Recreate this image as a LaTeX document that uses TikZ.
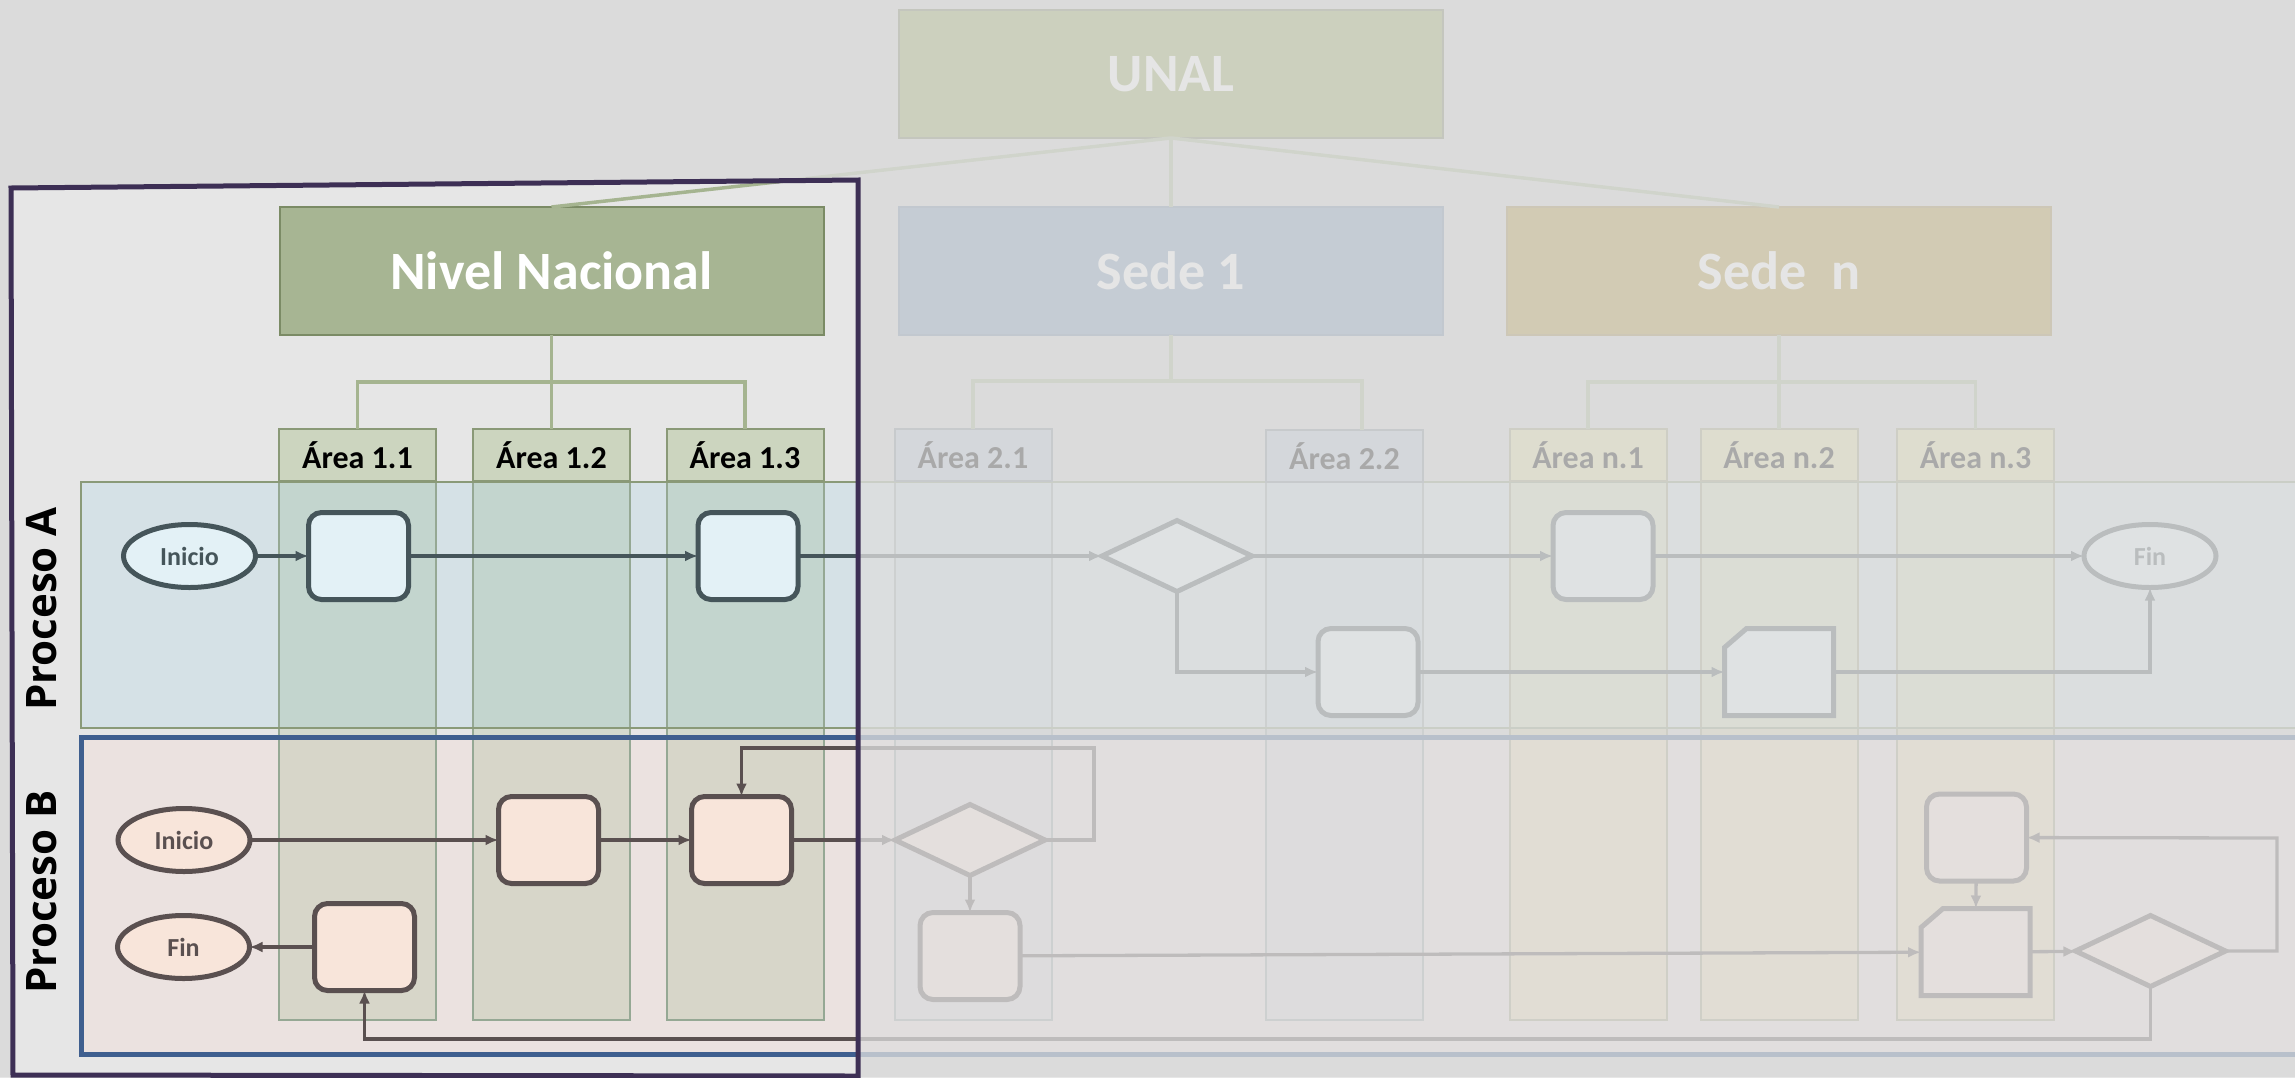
\documentclass[tikz,border=0pt]{standalone}
\usepackage{fontspec}
\setmainfont{Carlito}
\newfontfamily\lanefont{Open Sans}
\usetikzlibrary{positioning, shapes.geometric, arrows.meta}

\definecolor{bgbase}{HTML}{D5D5D5}
\definecolor{framefill}{HTML}{E6E6E6}
\definecolor{framedraw}{HTML}{3D2F55}
\definecolor{washgray}{HTML}{DEDEDE}
\definecolor{unalfill}{HTML}{95A659}
\definecolor{unalline}{HTML}{737B59}
\definecolor{nivfill}{HTML}{A7B593}
\definecolor{nivline}{HTML}{7B8B65}
\definecolor{sedeAfill}{HTML}{7795B7}
\definecolor{sedeAline}{HTML}{6A84A0}
\definecolor{sedeNfill}{HTML}{AE912F}
\definecolor{sedeNline}{HTML}{98803A}
\definecolor{linkcol}{HTML}{A5B490}
\definecolor{nivareafill}{HTML}{CCD5BF}
\definecolor{nivarealine}{HTML}{8A9977}
\definecolor{sAareafill}{HTML}{B7C4D5}
\definecolor{sAarealine}{HTML}{808C95}
\definecolor{sNareafill}{HTML}{E2DDA2}
\definecolor{sNarealine}{HTML}{9D9D77}
\definecolor{nivcol}{HTML}{EAF2E5}
\definecolor{nivcolline}{HTML}{95A894}
\definecolor{sAcol}{HTML}{F0F3FA}
\definecolor{sAcolline}{HTML}{99A6A6}
\definecolor{sNcol}{HTML}{FFF8D0}
\definecolor{sNcolline}{HTML}{A2A280}
\definecolor{laneAfill}{HTML}{D5E1E6}
\definecolor{laneAline}{HTML}{8A9A78}
\definecolor{laneBfill}{HTML}{EBE2E0}
\definecolor{laneBline}{HTML}{3F5F8F}
\definecolor{fillA}{HTML}{E3F1F6}
\definecolor{lineA}{HTML}{45555A}
\definecolor{fillB}{HTML}{F8E5DA}
\definecolor{lineB}{HTML}{5A5050}

\begin{document}
\begin{tikzpicture}[
    x=1pt, y=-1pt,
    >={Latex[length=13pt, width=11pt]},
    orgbox/.style={draw, line width=2pt, minimum width=544pt, minimum height=128pt, inner sep=0pt, outer sep=0pt, text=white, font=\fontsize{54}{60}\selectfont\bfseries},
    unalbox/.style={orgbox, fill=unalfill, draw=unalline},
    nivbox/.style={orgbox, fill=nivfill, draw=nivline},
    sedeAbox/.style={orgbox, fill=sedeAfill, draw=sedeAline},
    sedeNbox/.style={orgbox, fill=sedeNfill, draw=sedeNline},
    orglink/.style={line width=3.5pt, draw=linkcol},
    areahd/.style={draw, line width=2pt, minimum width=157pt, minimum height=52pt, inner sep=0pt, outer sep=0pt, font=\fontsize{32}{36}\selectfont\bfseries},
    nivarea/.style={areahd, fill=nivareafill, draw=nivarealine},
    sAarea/.style={areahd, fill=sAareafill, draw=sAarealine},
    sNarea/.style={areahd, fill=sNareafill, draw=sNarealine},
    colline/.style={line width=2pt},
    lanelbl/.style={rotate=90, font=\lanefont\fontsize{42}{48}\selectfont\bfseries},
    shp/.style={line width=5pt, inner sep=0pt, outer sep=0pt},
    procbox/.style={shp, rounded corners=13pt, minimum width=100pt, minimum height=87pt},
    termbox/.style={shp, ellipse, minimum width=132pt, minimum height=63pt, font=\fontsize{26}{30}\selectfont\bfseries},
    decbox/.style={shp, diamond, minimum width=150pt, minimum height=71pt},
    docbox/.style={shp, minimum width=109pt, minimum height=87pt},
    inA/.style={draw=lineA, fill=fillA, text=lineA},
    inB/.style={draw=lineB, fill=fillB, text=lineB},
    flowA/.style={->, line width=3.3pt, draw=lineA},
    flowB/.style={->, line width=3.3pt, draw=lineB},
    wash/.style={fill=washgray, fill opacity=0.765},
]
\useasboundingbox (0,0) rectangle (2295,1077);
\fill[bgbase] (0,0) rectangle (2295,1077);

% ─── Highlight frame ───
\coordinate (fNW) at (11,188);
\coordinate (fNE) at (858,180);
\coordinate (fSE) at (858,1076);
\coordinate (fSW) at (13,1075);
\fill[framefill] (fNW) -- (fNE) -- (fSE) -- (fSW) -- cycle;

% ─── Lanes ───
\fill[laneAfill] (81,482) rectangle (2320,728);
\fill[laneBfill] (81,737) rectangle (2320,1054);

% ─── Area columns ───
\begin{scope}[blend mode=multiply]
    \foreach \cx in {357.5, 551.5, 745} \fill[nivcol] ({\cx-78.5},482) rectangle ({\cx+78.5},1020);
    \foreach \cx in {973, 1344.5} \fill[sAcol] ({\cx-78.5},482) rectangle ({\cx+78.5},1020);
    \foreach \cx in {1588, 1779, 1975.5} \fill[sNcol] ({\cx-78.5},482) rectangle ({\cx+78.5},1020);
\end{scope}
\foreach \cx in {357.5, 551.5, 745} \draw[colline, nivcolline] ({\cx-78.5},482) rectangle ({\cx+78.5},1020);
\foreach \cx in {973, 1344.5} \draw[colline, sAcolline] ({\cx-78.5},482) rectangle ({\cx+78.5},1020);
\foreach \cx in {1588, 1779, 1975.5} \draw[colline, sNcolline] ({\cx-78.5},482) rectangle ({\cx+78.5},1020);

\draw[laneAline, line width=2.5pt] (81,482) rectangle (2320,728);
\draw[laneBline, line width=5pt] (81,737) rectangle (2320,1054);

\node[lanelbl] at (42,609) (lblA) {Proceso A};
\node[lanelbl] at (42,892) (lblB) {Proceso B};

% ─── Area headers ───
\node[nivarea] at (357.5,455) (ar11) {Área 1.1};
\node[nivarea] at (551.5,455) (ar12) {Área 1.2};
\node[nivarea] at (745,455)   (ar13) {Área 1.3};
\node[sAarea]  at (973,455)   (ar21) {Área 2.1};
\node[sAarea]  at (1344.5,456) (ar22) {Área 2.2};
\node[sNarea]  at (1588,455)  (arn1) {Área n.1};
\node[sNarea]  at (1779,455)  (arn2) {Área n.2};
\node[sNarea]  at (1975.5,455) (arn3) {Área n.3};

% ─── Org chart ───
\node[unalbox]  at (1171,74)   (unal)  {UNAL};
\node[nivbox]   at (551.5,271) (nivel) {Nivel Nacional};
\node[sedeAbox] at (1171,271)  (sede1) {Sede 1};
\node[sedeNbox] at (1779,271)  (seden) {Sede\ \ n};

\draw[orglink] (unal.south) -- (nivel.north);
\draw[orglink] (unal.south) -- (sede1.north);
\draw[orglink] (unal.south) -- (seden.north);

\coordinate (nivJ) at (551.5,382);
\coordinate (s1J)  at (1171,381);
\coordinate (snJ)  at (1779,382);
\draw[orglink] (nivel.south) -- (ar12.north);
\draw[orglink] (ar11.north) |- (nivJ) -| (ar13.north);
\draw[orglink] (sede1.south) -- (s1J);
\draw[orglink] (ar21.north) |- (s1J) -| ([xshift=17.5pt]ar22.north);
\draw[orglink] (seden.south) -- (arn2.north);
\draw[orglink] (arn1.north) |- (snJ) -| (arn3.north);

% ─── Proceso A ───
\node[termbox, inA] at (189.5,556) (iniA) {Inicio};
\node[procbox, inA] at (358.5,556) (pA1) {};
\node[procbox, inA] at (748,556)   (pA2) {};
\node[decbox, inA]  at (1177,556)  (dA1) {};
\node[procbox, inA] at (1603,556)  (pA3) {};
\node[termbox, inA] at (2150,556)  (finA) {Fin};
\node[procbox, inA] at (1368,672)  (pA4) {};
\node[docbox]       at (1779,672)  (docA) {};
\filldraw[shp, inA] ([xshift=22pt]docA.north west) -- (docA.north east) -- (docA.south east)
    -- (docA.south west) -- ([yshift=-19pt]docA.north west) -- cycle;

\draw[flowA] (iniA) -- (pA1);
\draw[flowA] (pA1) -- (pA2);
\draw[flowA] (pA2) -- (dA1);
\draw[flowA] (dA1) -- (pA3);
\draw[flowA] (pA3) -- (finA);
\draw[flowA] (dA1.south) |- (pA4);
\draw[flowA] (pA4) -- (docA);
\draw[flowA] (docA) -| (finA);

% ─── Proceso B ───
\node[termbox, inB] at (184,840)    (iniB) {Inicio};
\node[termbox, inB] at (183.5,947)  (finB) {Fin};
\node[procbox, inB] at (364.5,947)  (pB1) {};
\node[procbox, inB] at (548.5,840)  (pB2) {};
\node[procbox, inB] at (741.5,840)  (pB3) {};
\node[decbox, inB]  at (970,840)    (dB1) {};
\node[procbox, inB] at (970,956)    (pB4) {};
\node[procbox, inB] at (1976.5,837.5) (pB5) {};
\node[docbox]       at (1975.5,952) (docB) {};
\filldraw[shp, inB] ([xshift=22pt]docB.north west) -- (docB.north east) -- (docB.south east)
    -- (docB.south west) -- ([yshift=-19pt]docB.north west) -- cycle;
\node[decbox, inB]  at (2150.5,951) (dB2) {};

\coordinate (loopB1) at (1094,748);
\coordinate (loopB2) at (2277,838);
\coordinate (loopB3) at (2150.5,1039);

\draw[flowB] (iniB) -- (pB2);
\draw[flowB] (pB2) -- (pB3);
\draw[flowB] (pB3) -- (dB1);
\draw[flowB] (dB1.east) -| (loopB1) -| (pB3);
\draw[flowB] (dB1) -- (pB4);
\draw[flowB] (pB4) -- (docB);
\draw[flowB] (pB5) -- (docB);
\draw[flowB] (docB) -- (dB2);
\draw[flowB] (dB2.east) -| (loopB2) -- (pB5);
\draw[flowB] (dB2.south) -- (loopB3) -| (pB1);
\draw[flowB] (pB1) -- (finB);

% ─── Fade outside the frame ───
\fill[wash, even odd rule] (0,0) rectangle (2320,1080) (fNW) -- (fNE) -- (fSE) -- (fSW) -- cycle;
\draw[framedraw, line width=5pt] (fNW) -- (fNE) -- (fSE) -- (fSW) -- cycle;

\end{tikzpicture}
\end{document}
